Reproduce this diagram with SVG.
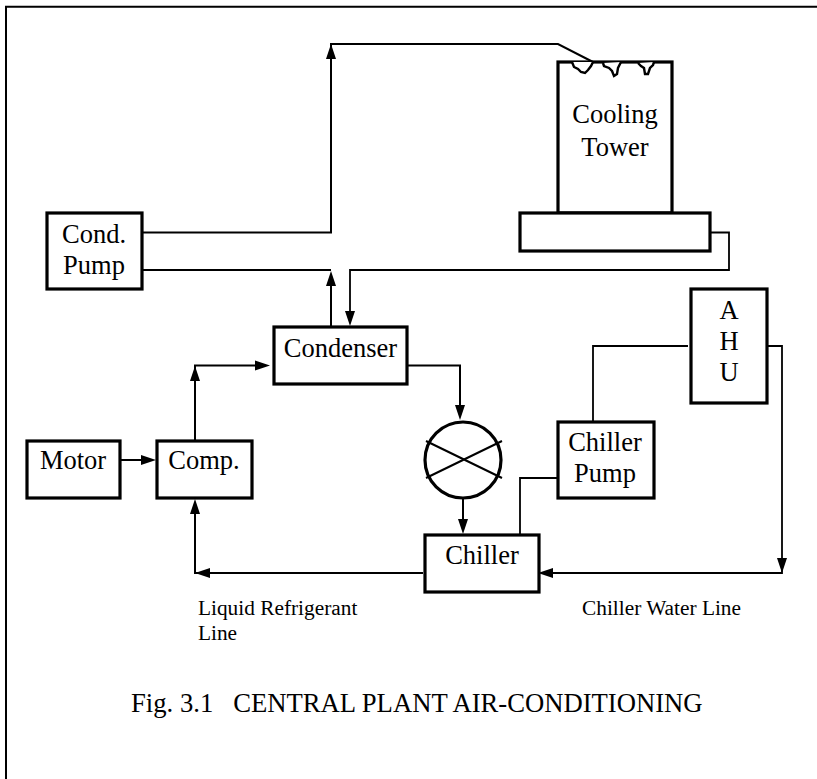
<svg xmlns="http://www.w3.org/2000/svg" width="817" height="779" viewBox="0 0 817 779">
<defs>
<style>
text{font-family:"Liberation Serif","Times New Roman",serif;fill:#000;text-anchor:middle}
.n{font-size:26.5px}
.s{font-size:21.33px;text-anchor:start}
.c{font-size:26.67px;text-anchor:start;white-space:pre}
.b{fill:#fff;stroke:#000;stroke-width:3.2}
.l{fill:none;stroke:#000;stroke-width:2}
.t{fill:none;stroke:#000;stroke-width:1.8}
.a{fill:#000;stroke:none}
</style>
<path id="u" d="M0 0l-5 -15h10z"/>
</defs>
<rect width="817" height="779" fill="#fff"/>
<path id="frame" d="M6 779V6.800H817" fill="none" stroke="#000" stroke-width="2"/>
<g id="connectors">
<path class="l" d="M142 232.500H331V44H558L593 62"/>
<path class="l" d="M142 270H331M331 327V285"/>
<path class="t" d="M710 232.500H729V270H350V313"/>
<path class="l" d="M195 441V365.500H256"/>
<path class="l" d="M403 365.500H460V406"/>
<path class="l" d="M463 498V521"/>
<path class="t" d="M558 478H520V535"/>
<path class="t" d="M593 422V346H688"/>
<path class="t" d="M763 346H782V573H552"/>
<path class="l" d="M423 573H195V513"/>
<path class="l" d="M120 460H142"/>
<g class="a">
<use href="#u" transform="translate(331 44) rotate(180)"/>
<use href="#u" transform="translate(331 271) rotate(180)"/>
<use href="#u" transform="translate(350 326)"/>
<use href="#u" transform="translate(195 366) rotate(180)"/>
<use href="#u" transform="translate(270 365.500) rotate(-90)"/>
<use href="#u" transform="translate(460 420)"/>
<use href="#u" transform="translate(463 534)"/>
<use href="#u" transform="translate(782 573)"/>
<use href="#u" transform="translate(538 573) rotate(90)"/>
<use href="#u" transform="translate(195 573) rotate(90)"/>
<use href="#u" transform="translate(195 499) rotate(180)"/>
<use href="#u" transform="translate(156 460) rotate(-90)"/>
</g>
</g>
<g id="cooling-tower">
<rect class="b" x="558" y="62" width="114" height="151"/>
<path fill="#fff" stroke="#000" stroke-width="2.400" d="M572 62L574 67L578 69L581 72L585 73L588 70L591 66L593 62M603 63L604 66L609 68L612 71L614 76L617 74L618 68L621 62M638 63L641 66L644 68L645 74L648 74L650 68L653 65L654 62"/>
<text class="n" x="615" y="123">Cooling</text>
<text class="n" x="615" y="156">Tower</text>
</g>
<g id="basin"><rect class="b" x="520" y="213" width="190" height="38"/></g>
<g id="cond-pump">
<rect class="b" x="47" y="213" width="95" height="76"/>
<text class="n" x="94" y="243">Cond.</text>
<text class="n" x="94" y="274">Pump</text>
</g>
<g id="condenser">
<rect class="b" x="274" y="327" width="133" height="57"/>
<text class="n" x="340.500" y="357">Condenser</text>
</g>
<g id="ahu">
<rect class="b" x="691" y="289" width="76" height="114"/>
<text class="n" x="729" y="319">A</text>
<text class="n" x="729" y="350">H</text>
<text class="n" x="729" y="381">U</text>
</g>
<g id="motor">
<rect class="b" x="27" y="441" width="93" height="57"/>
<text class="n" x="73" y="469">Motor</text>
</g>
<g id="comp">
<rect class="b" x="157" y="441" width="95" height="57"/>
<text class="n" x="204" y="469">Comp.</text>
</g>
<g id="valve">
<circle cx="463" cy="460" r="38" fill="#fff" stroke="#000" stroke-width="3.2"/>
<path class="l" d="M426 441L502 478M426 478L502 441"/>
</g>
<g id="chiller-pump">
<rect class="b" x="558" y="422" width="96" height="76"/>
<text class="n" x="605" y="451">Chiller</text>
<text class="n" x="605" y="482">Pump</text>
</g>
<g id="chiller">
<rect class="b" x="425" y="535" width="114" height="57"/>
<text class="n" x="482" y="564">Chiller</text>
</g>
<g id="labels">
<text class="s" x="198" y="615">Liquid Refrigerant</text>
<text class="s" x="198" y="640">Line</text>
<text class="s" x="582" y="615">Chiller Water Line</text>
<text class="c" x="131" y="712" xml:space="preserve">Fig. 3.1   CENTRAL PLANT AIR-CONDITIONING</text>
</g>
</svg>
